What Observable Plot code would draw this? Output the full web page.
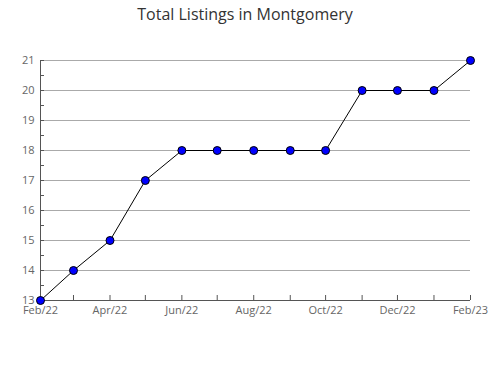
<!DOCTYPE html>
<html><head><meta charset="utf-8">
<script src="https://cdn.jsdelivr.net/npm/d3@7"></script>
<script src="https://cdn.jsdelivr.net/npm/@observablehq/plot@0.6"></script>
<style>
body{margin:0;background:#fff;font-family:"Open Sans",sans-serif;}
#title{height:40px;line-height:28px;text-align:center;font-size:16px;color:#333;width:490px;}
</style></head><body>
<div id="title">Total Listings in Montgomery</div>
<div id="chart"></div>
<script>
const months = ["2022-02","2022-03","2022-04","2022-05","2022-06","2022-07","2022-08","2022-09","2022-10","2022-11","2022-12","2023-01","2023-02"];
const listings = [13,14,15,17,18,18,18,18,18,20,20,20,21];
const yTicks = [13,14,15,16,17,18,19,20,21];
const yMinorTicks = [13,13.5,14,14.5,15,15.5,16,16.5,17,17.5,18,18.5,19,19.5,20,20.5,21];
const xLabelMonths = ["2022-02","2022-04","2022-06","2022-08","2022-10","2022-12","2023-02"];

const parse = d3.utcParse("%Y-%m");
const data = months.map((m,i)=>({date: parse(m), value: listings[i]}));
const fmt = d3.utcFormat("%b/%y");

const plot = Plot.plot({
  width: 490, height: 340,
  marginTop: 20, marginBottom: 80, marginLeft: 40, marginRight: 20,
  style: {fontFamily: "Open Sans, sans-serif", fontSize: "11px", color: "#555"},
  x: {type: "utc", domain: [parse("2022-02"), parse("2023-02")]},
  y: {domain: [13,21]},
  marks: [
    Plot.ruleY(yTicks.slice(1), {stroke: "#aaa", strokeOpacity: 1}),
    Plot.axisY({ticks: yMinorTicks, tickSize: -4, tickFormat: () => "", stroke: "#555", label: null}),
    Plot.axisY({ticks: yTicks, tickSize: 0, tickPadding: 6, tickFormat: d => d, fill: "#666", label: null}),
    Plot.axisX({ticks: months.map(parse), tickSize: -5, tickFormat: () => "", stroke: "#555", label: null}),
    Plot.axisX({ticks: xLabelMonths.map(parse), tickSize: 0, tickPadding: 6, tickFormat: fmt, fill: "#666", label: null}),
    Plot.ruleX([parse("2022-02")], {stroke: "#555"}),
    Plot.ruleY([13], {stroke: "#555"}),
    Plot.line(data, {x: "date", y: "value", stroke: "#000", strokeWidth: 1}),
    Plot.dot(data, {x: "date", y: "value", r: 4, fill: "#0000ff", stroke: "#000", strokeWidth: 1})
  ]
});
document.getElementById("chart").appendChild(plot);
</script>
</body></html>
